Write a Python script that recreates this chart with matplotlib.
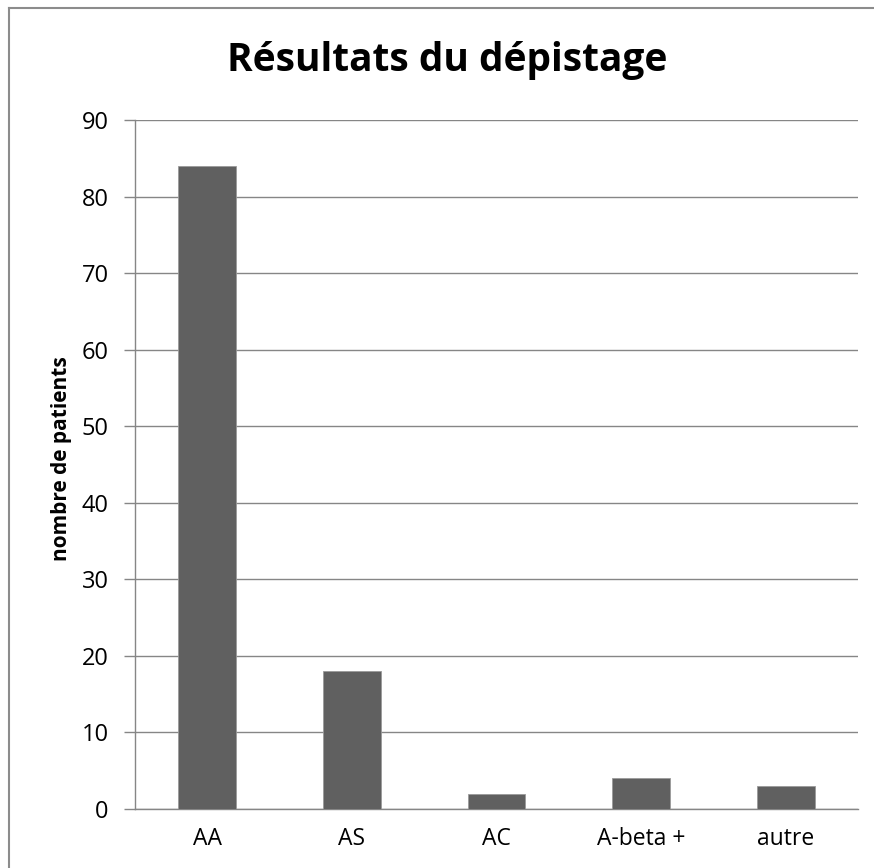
import matplotlib
matplotlib.use("Agg")
import matplotlib.pyplot as plt
from matplotlib.lines import Line2D

# data
categories = ["AA", "AS", "AC", "A-beta +", "autre"]
patients = [84, 18, 2, 4, 3]
yticks = [0, 10, 20, 30, 40, 50, 60, 70, 80, 90]

plt.rcParams['font.family'] = ['Open Sans', 'DejaVu Sans']

fig = plt.figure(figsize=[8.74, 8.68], dpi=100)
ax = fig.add_axes([135 / 874, 1 - 809 / 868, 723 / 874, 689 / 868])

grid_col = '#868686'
ax.bar(range(len(categories)), patients, width=0.4, color='#606060',
       edgecolor='#9a9a9a', linewidth=0.6, zorder=3)

ax.set_xlim(-0.5, len(categories) - 0.5)
ax.set_ylim(0, 90)
ax.set_yticks(yticks)
ax.set_xticks(range(len(categories)))
ax.set_xticklabels(categories, fontsize=16.5)
ax.tick_params(axis='y', labelsize=17, length=8, color=grid_col, width=1, pad=11)
ax.tick_params(axis='x', length=0, pad=13)
ax.yaxis.grid(True, color=grid_col, linewidth=1)
ax.set_axisbelow(True)
for side in ['top', 'right']:
    ax.spines[side].set_visible(False)
for side in ['left', 'bottom']:
    ax.spines[side].set_color(grid_col)
    ax.spines[side].set_linewidth(1)

# y axis title
fig.text(62 / 874, 1 - 459 / 868, 'nombre de patients', fontsize=15,
         fontweight='bold', rotation=90, ha='center', va='center')

fig.text(447 / 874, 1 - 60 / 868, 'Résultats du dépistage', fontsize=28,
         fontweight='bold', ha='center', va='center')

# outer chart border (only top and left visible in the crop)
fig.add_artist(Line2D([8.5 / 874, 8.5 / 874], [0, 1 - 7.5 / 868],
                      transform=fig.transFigure, color='#8c8c8c', linewidth=1.5))
fig.add_artist(Line2D([8.5 / 874, 1], [1 - 7.5 / 868, 1 - 7.5 / 868],
                      transform=fig.transFigure, color='#8c8c8c', linewidth=1.5))

plt.savefig('out.png', dpi=100)
